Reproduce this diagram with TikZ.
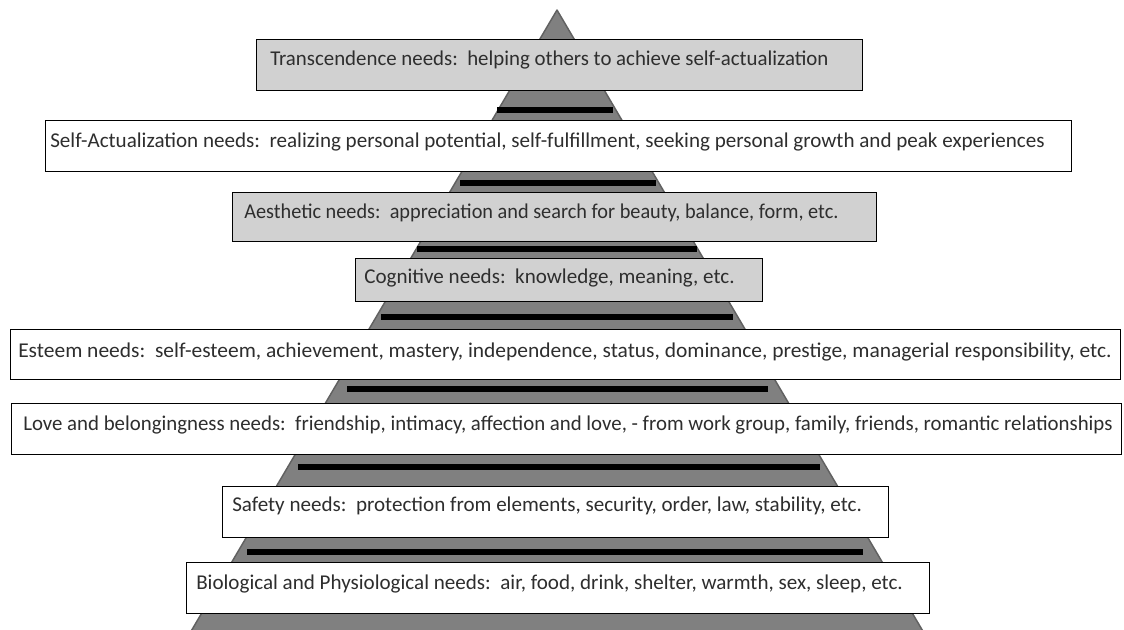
\documentclass[tikz,border=0pt]{standalone}
\usepackage{fontspec}
\setmainfont{Carlito}
\begin{document}
\begin{tikzpicture}[x=0.75pt,y=-0.75pt,
  needbox/.style={draw=black,line width=0.9pt,inner sep=0pt,anchor=north west},
  plainbox/.style={needbox,fill=white},
  shadebox/.style={needbox,fill=black!18},
  needtext/.style={anchor=base west,inner sep=0pt,text=black!82,font=\fontsize{15.8}{18}\selectfont},
  tierbar/.style={line width=3.8pt,black}
]
\useasboundingbox (0,0) rectangle (1124,630);
\begin{scope}
\clip (0,0) rectangle (1124,630);
% pyramid body
\draw[fill=black!50,draw=black!62,line width=1.1pt,line join=round]
  (557,10) -- (180,650) -- (934,650) -- cycle;
\end{scope}

% tier bars
\coordinate (b1l) at (497,110); \coordinate (b1r) at (613,110);
\coordinate (b2l) at (460,183); \coordinate (b2r) at (656,183);
\coordinate (b3l) at (417,249); \coordinate (b3r) at (697,249);
\coordinate (b4l) at (381,317); \coordinate (b4r) at (733,317);
\coordinate (b5l) at (347,389); \coordinate (b5r) at (768,389);
\coordinate (b6l) at (298,467); \coordinate (b6r) at (820,467);
\coordinate (b7l) at (247,552); \coordinate (b7r) at (863,552);
\foreach \i in {1,...,7} \draw[tierbar] (b\i l) -- (b\i r);

% boxes
\node[shadebox,minimum width=606*0.75pt,minimum height=51*0.75pt] (box1) at (256,39) {};
\node[plainbox,minimum width=1026*0.75pt,minimum height=51*0.75pt] (box2) at (45,120) {};
\node[shadebox,minimum width=644*0.75pt,minimum height=49*0.75pt] (box3) at (232,192) {};
\node[shadebox,minimum width=407*0.75pt,minimum height=43*0.75pt] (box4) at (355,258) {};
\node[plainbox,minimum width=1110*0.75pt,minimum height=50*0.75pt] (box5) at (10,329) {};
\node[plainbox,minimum width=1110*0.75pt,minimum height=51*0.75pt] (box6) at (11,403) {};
\node[plainbox,minimum width=666*0.75pt,minimum height=51*0.75pt] (box7) at (222,486) {};
\node[plainbox,minimum width=743*0.75pt,minimum height=51*0.75pt] (box8) at (186,562) {};

% labels
\node[needtext] (t1) at (270,66) {\scalebox{0.99}[1]{Transcendence needs:\ \ helping others to achieve self-actualization}};
\node[needtext] (t2) at (50,148) {Self-Actualization needs:\ \ realizing personal potential, self-fulfillment, seeking personal growth and peak experiences};
\node[needtext] (t3) at (244,219) {\scalebox{0.963}[1]{Aesthetic needs:\ \ appreciation and search for beauty, balance, form, etc.}};
\node[needtext] (t4) at (364,284) {Cognitive needs:\ \ knowledge, meaning, etc.};
\node[needtext] (t5) at (18,358) {\scalebox{1.019}[1]{Esteem needs:\ \ self-esteem, achievement, mastery, independence, status, dominance, prestige, managerial responsibility, etc.}};
\node[needtext] (t6) at (23,431) {\scalebox{0.989}[1]{Love and belongingness needs:\ \ friendship, intimacy, affection and love, - from work group, family, friends, romantic relationships}};
\node[needtext] (t7) at (232,511) {Safety needs:\ \ protection from elements, security, order, law, stability, etc.};
\node[needtext] (t8) at (196,589) {Biological and Physiological needs:\ \ air, food, drink, shelter, warmth, sex, sleep, etc.};
\end{tikzpicture}
\end{document}
